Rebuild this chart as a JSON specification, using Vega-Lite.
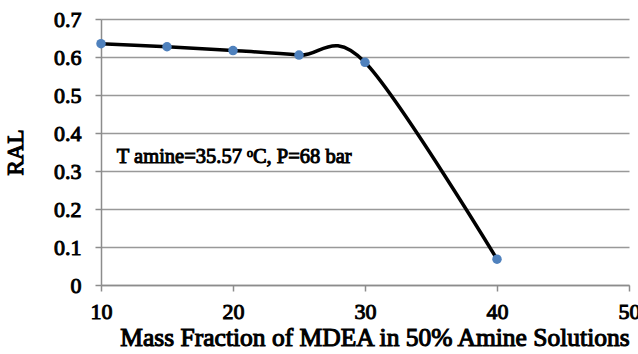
{
  "$schema": "https://vega.github.io/schema/vega-lite/v6.json",
  "width": 528,
  "height": 266,
  "autosize": "none",
  "padding": {"left": 101, "top": 19, "right": 9, "bottom": 69},
  "background": "white",
  "config": {
    "view": {"stroke": null},
    "axis": {
      "labelFont": "Liberation Serif", "labelFontSize": 22, "labelFontWeight": "normal", "labelColor": "black",
      "titleFont": "Liberation Serif", "titleFontWeight": "normal", "titleColor": "black",
      "domainColor": "#8c8c8c", "domainWidth": 1.5, "tickColor": "#8c8c8c", "tickWidth": 1.5, "tickSize": 6,
      "labelOverlap": false, "labelFlush": false
    }
  },
  "data": {"values": [
    {"x": 10, "y": 0.635},
    {"x": 15, "y": 0.627},
    {"x": 20, "y": 0.617},
    {"x": 25, "y": 0.605},
    {"x": 30, "y": 0.586},
    {"x": 40, "y": 0.068}
  ]},
  "encoding": {
    "x": {"field": "x", "type": "quantitative", "scale": {"domain": [10, 50], "nice": false},
      "axis": {"title": "Mass Fraction of MDEA in 50% Amine Solutions", "values": [10, 20, 30, 40, 50], "grid": false,
        "labelPadding": 10, "titlePadding": 3, "titleX": 273.5, "titleFontSize": 25.5,
        "encoding": {"labels": {"stroke": {"value": "black"}, "strokeWidth": {"value": 1.0}},
                     "title": {"stroke": {"value": "black"}, "strokeWidth": {"value": 1.1}}}}},
    "y": {"field": "y", "type": "quantitative", "scale": {"domain": [0, 0.7], "nice": false},
      "axis": {"title": "RAL", "values": [0, 0.1, 0.2, 0.3, 0.4, 0.5, 0.6, 0.7], "format": "~g",
        "grid": true, "gridColor": "#999999", "gridWidth": 1.5, "labelPadding": 14, "titlePadding": 26, "titleFontSize": 23,
        "encoding": {"labels": {"stroke": {"value": "black"}, "strokeWidth": {"value": 1.0}},
                     "title": {"stroke": {"value": "black"}, "strokeWidth": {"value": 1.1}}}}}
  },
  "layer": [
    {
      "mark": {"type": "line", "color": "black", "strokeWidth": 3.5, "interpolate": "cardinal", "tension": 0}
    },
    {
      "mark": {"type": "point", "filled": true, "color": "#4F81BD", "size": 90, "opacity": 1}
    },
    {
      "data": {"values": [{"x": 11.2, "y": 0.337, "label": "T amine=35.57 ᵒC, P=68 bar"}]},
      "mark": {"type": "text", "align": "left", "baseline": "middle", "font": "Liberation Serif", "fontSize": 20.5, "fontWeight": "normal", "color": "black", "stroke": "black", "strokeWidth": 1.0},
      "encoding": {
        "text": {"field": "label"}
      }
    }
  ]
}
